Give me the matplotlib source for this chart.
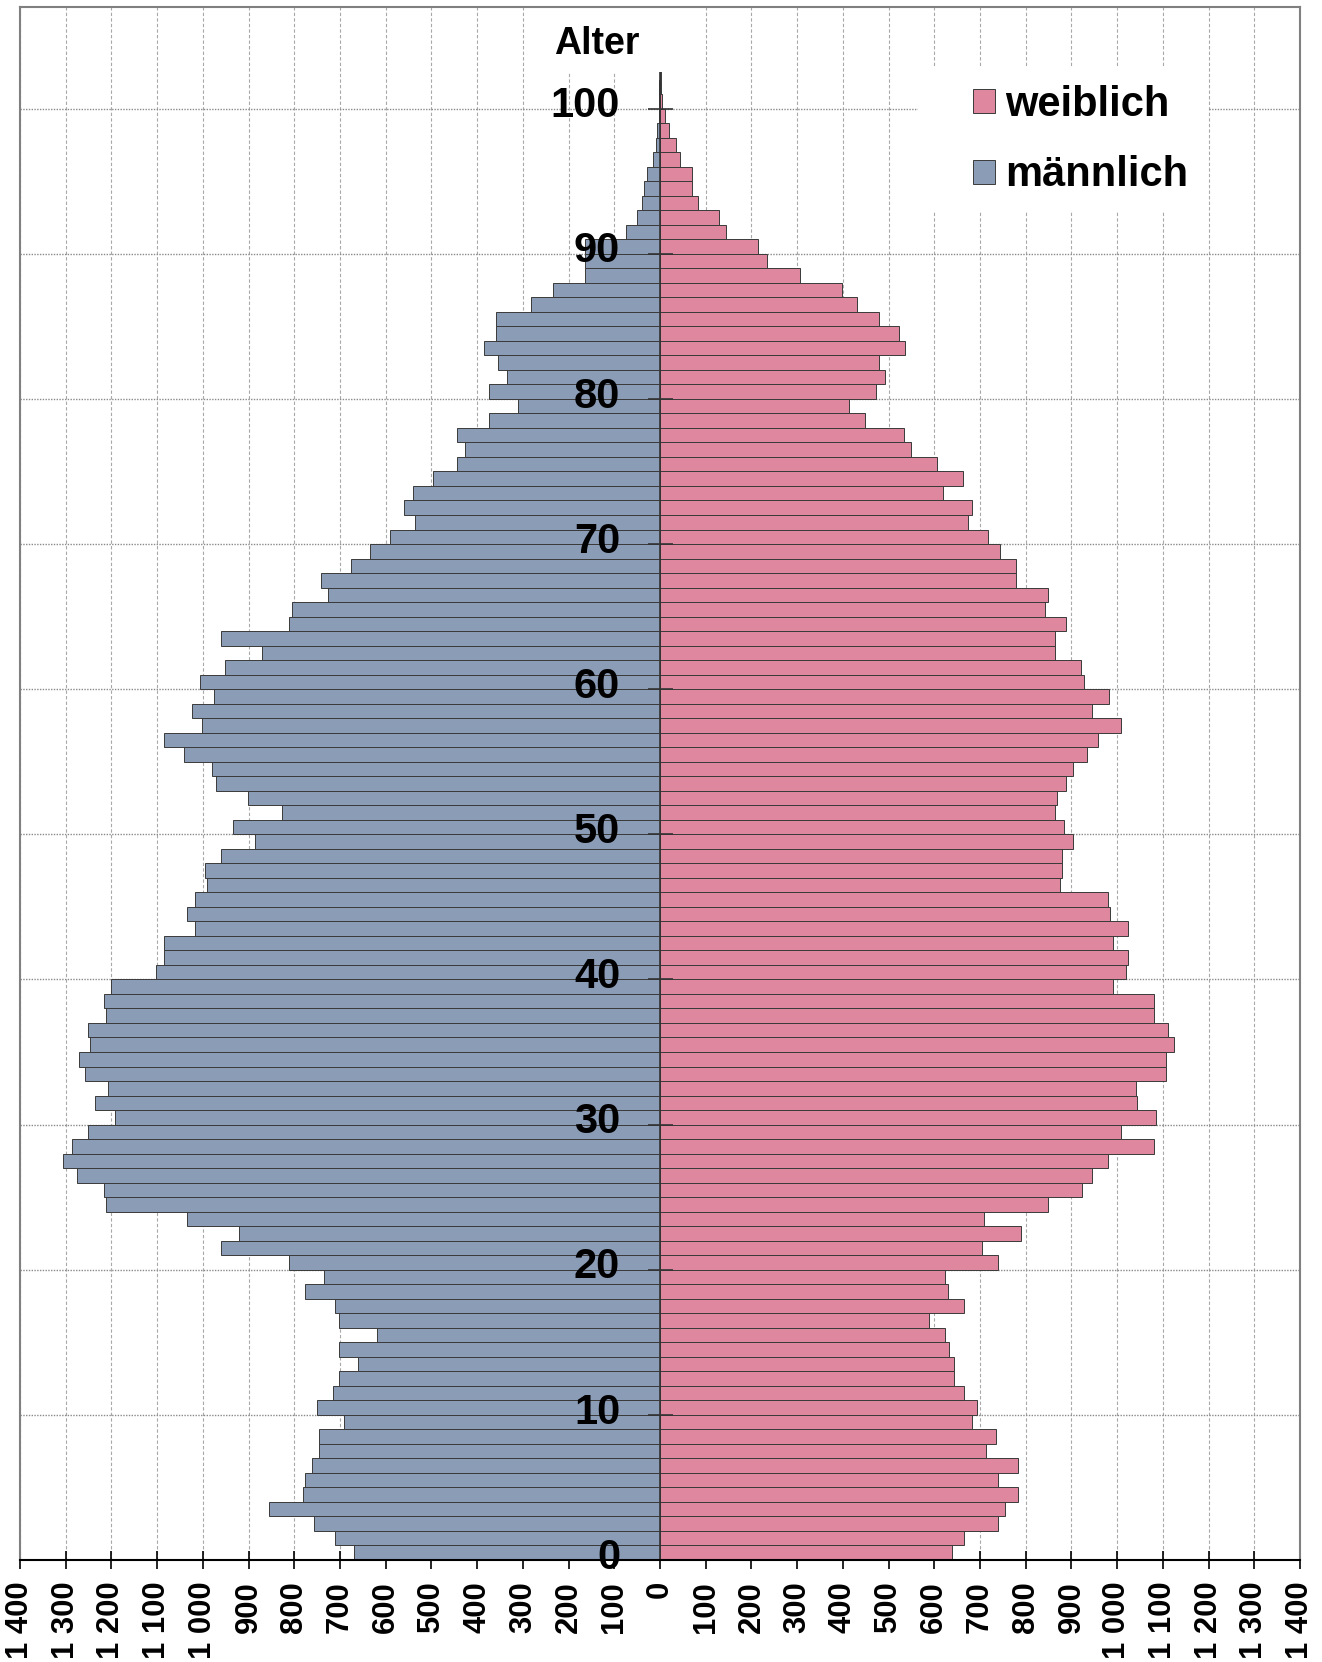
import matplotlib.pyplot as plt
from matplotlib.patches import Rectangle

plt.rcParams['font.family'] = ['Liberation Sans', 'DejaVu Sans']

# Altersjahre 0 .. 102 (ein Balken je Jahrgang)
ages = list(range(0, 103))

maennlich = [670, 711, 756, 856, 781, 776, 761, 746, 746, 691,
             750, 715, 702, 661, 702, 620, 702, 711, 776, 735,
             811, 961, 920, 1035, 1211, 1217, 1276, 1306, 1287, 1252,
             1193, 1237, 1207, 1257, 1270, 1246, 1252, 1211, 1217, 1202,
             1102, 1085, 1085, 1017, 1035, 1017, 991, 996, 961, 887,
             935, 826, 902, 972, 981, 1041, 1085, 1002, 1024, 976,
             1007, 952, 870, 961, 811, 806, 726, 741, 676, 635,
             591, 537, 561, 541, 496, 444, 426, 444, 374, 311,
             374, 335, 354, 385, 359, 359, 283, 233, 165, 165,
             165, 75, 50, 39, 34, 29, 15, 9, 6, 3,
             3, 2, 1]

weiblich = [639, 665, 739, 754, 783, 739, 783, 713, 735, 683,
            694, 665, 644, 644, 633, 624, 589, 665, 630, 624,
            739, 704, 789, 709, 848, 924, 944, 980, 1080, 1009,
            1085, 1044, 1041, 1106, 1106, 1124, 1111, 1080, 1080, 991,
            1020, 1024, 991, 1024, 985, 980, 876, 880, 880, 904,
            883, 865, 869, 889, 904, 933, 959, 1009, 944, 983,
            928, 922, 863, 863, 889, 843, 848, 778, 778, 743,
            717, 674, 683, 619, 663, 607, 548, 533, 448, 413,
            472, 493, 478, 537, 522, 478, 431, 398, 307, 234,
            214, 145, 130, 84, 69, 69, 44, 34, 20, 10,
            5, 3, 2]

x_ticks = list(range(-1400, 1401, 100))
age_labels = list(range(0, 101, 10))

col_m = '#8B9CB7'
col_w = '#DE879F'
edge = '#3a3a3a'

fig = plt.figure(figsize=(13.22, 16.62), dpi=100)
ax = fig.add_axes([20 / 1322, 1 - 1560 / 1662, 1280 / 1322, 1553 / 1662])

ymid = [a + 0.5 for a in ages]
bm = ax.barh(ymid, [-v for v in maennlich], height=1.0, color=col_m,
             edgecolor=edge, linewidth=0.7, zorder=2)
bw = ax.barh(ymid, weiblich, height=1.0, color=col_w,
             edgecolor=edge, linewidth=0.7, zorder=2)

ax.set_xlim(-1400, 1400)
ax.set_ylim(0, 107)

# Gitter
ax.set_xticks(x_ticks)
ax.set_xticklabels([f'{abs(v):,}'.replace(',', ' ') for v in x_ticks],
                   rotation=90, fontsize=22.3, fontweight='bold')
ax.set_yticks(age_labels)
ax.tick_params(axis='y', left=False, labelleft=False)
ax.tick_params(axis='x', direction='inout', length=13, width=1.2, pad=8.6)
ax.xaxis.grid(True, color='#a8a8a8', linestyle=(0, (3, 2)), linewidth=0.8)
ax.yaxis.grid(True, color='#8a8a8a', linestyle=(0, (1, 1)), linewidth=1.0)
ax.set_axisbelow(True)

for s in ['left', 'right', 'top']:
    ax.spines[s].set_color('#808080')
    ax.spines[s].set_linewidth(1.5)
ax.spines['bottom'].set_color('black')
ax.spines['bottom'].set_linewidth(1.5)

# Mittelachse mit Teilstrichen
ax.axvline(0, color='#333333', linewidth=1.2, zorder=2.2)
ax.plot([0] * len(age_labels), age_labels, linestyle='none', marker='_',
        markersize=18, mew=1.2, color='#333333', zorder=2.2, clip_on=False)

for a in age_labels:
    ax.text(-87, a - 0.6, str(a), ha='right', va='baseline',
            fontsize=30, fontweight='bold', zorder=5)

# weisse Flaechen hinter "Alter" und Legende
ax.add_patch(Rectangle((0.396, 0.958), 0.11, 0.042, transform=ax.transAxes,
                       facecolor='white', edgecolor='none', zorder=2.4))
ax.add_patch(Rectangle((0.7016, 0.868), 0.2266, 0.0934, transform=ax.transAxes,
                       facecolor='white', edgecolor='none', zorder=2.4))

fig.text(597 / 1322, 1 - 54 / 1662, 'Alter', ha='center', va='baseline',
         fontsize=27, fontweight='bold')

leg = ax.legend([bw, bm], ['weiblich', 'männlich'], loc='upper left',
                bbox_to_anchor=(973 / 1322, 1 - 85 / 1662),
                bbox_transform=fig.transFigure, frameon=False,
                prop={'weight': 'bold', 'size': 30},
                handlelength=0.53, handleheight=0.5, handletextpad=0.24,
                labelspacing=0.73, borderpad=0, borderaxespad=0)
leg.set_zorder(5)

fig.savefig('out.png', dpi=100)
